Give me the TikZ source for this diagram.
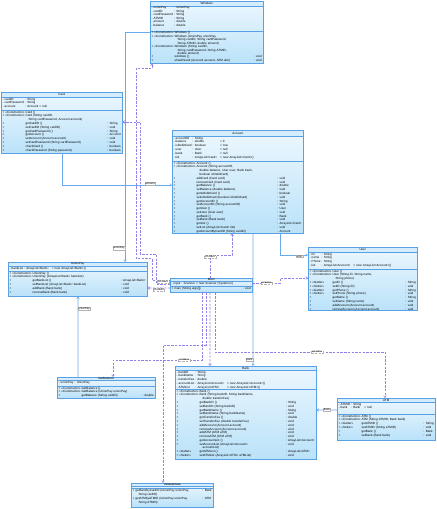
\documentclass[tikz,border=0pt]{standalone}
\usepackage{fontspec}
\setmainfont{Liberation Sans}
\usepackage{tikz}
\usetikzlibrary{positioning,arrows.meta,calc}

\definecolor{umlborder}{RGB}{90,160,228}
\definecolor{umlfill}{RGB}{186,226,249}
\definecolor{umltop}{RGB}{236,247,254}
\definecolor{umlhead}{RGB}{212,237,252}
\definecolor{assoc}{RGB}{105,170,238}
\definecolor{dep}{RGB}{145,130,235}

% class box: name, position, width, height, title sep, attribute sep, title, attributes, methods
\newcommand{\umlclass}[9]{%
  \node[umlbox, minimum width=#3bp, minimum height=#4bp, anchor=north west] (#1) at #2 {};
  \fill[umlhead] (#1.north west) rectangle ([yshift=-#5bp]#1.north east);
  \draw[umlborder, line width=.3bp] ([yshift=-#5bp]#1.north west) -- ([yshift=-#5bp]#1.north east);
  \draw[umlborder, line width=.3bp] ([yshift=-#6bp]#1.north west) -- ([yshift=-#6bp]#1.north east);
  \draw[umlborder, line width=.5bp] (#1.north west) rectangle (#1.south east);
  \node[umltitle] at ($(#1.north west)!.5!([yshift=-#5bp]#1.north east)$) {#7};
  \pgfmathsetmacro{\umltw}{#3-3}
  \node[umltext, anchor=north west, text width=\umltw bp] at ([xshift=1.5bp,yshift=-#5bp-.3bp]#1.north west) {#8};
  \node[umltext, anchor=north west, text width=\umltw bp] at ([xshift=1.5bp,yshift=-#6bp-.3bp]#1.north west) {#9};
}

\begin{document}
\begin{tikzpicture}[
  x=1bp, y=-1bp,
  umlbox/.style   = {draw=none, inner sep=0pt, top color=umltop, bottom color=umlfill},
  umltitle/.style = {font=\fontsize{3}{3.4}\selectfont, inner sep=0pt},
  umltext/.style  = {font=\fontsize{3.05}{3.8}\selectfont, inner sep=0pt, align=left},
  lbl/.style      = {font=\fontsize{2.7}{3}\selectfont, draw=black!30, line width=.2bp,
                     fill=white, inner sep=.5bp},
  assoc/.style    = {draw=assoc, line width=.6bp, -{Straight Barb[length=1.8bp,width=2.6bp]}},
  dep/.style      = {draw=dep, line width=.6bp, dash pattern=on 2.4bp off 1.3bp,
                     -{Straight Barb[length=1.8bp,width=2.6bp]}},
]
\fill[white] (0,0) rectangle (437,509);
\useasboundingbox (0,0) rectangle (437,509);

% ---------- windows ----------
\begin{scope}[umltext/.append style={font=\fontsize{3.05}{3.45}\selectfont}]
\umlclass{windows}{(150,1)}{113}{62}{5}{30}{Windows}
 {\begin{tabular}{@{}l@{\ }l@{\ }l@{}}
  - & unionPay & : UnionPay\\
  - & cardID & : String\\
  - & cardPassword & : String\\
  - & ATMID & : String\\
  - & amount & : double\\
  - & balance & : double
  \end{tabular}}
 {\begin{tabular*}{\hsize}{@{}l@{\ }l@{\ }l@{\extracolsep{\fill}}l@{}}
  + & «Constructor» & Windows () & \\
  + & «Constructor» & Windows (UnionPay unionPay, & \\
    & & \quad String cardID, String cardPassword, & \\
    & & \quad String ATMID, double amount) & \\
  + & «Constructor» & Windows (String cardID, & \\
    & & \quad String cardPassword, String ATMID, & \\
    & & \quad double amount) & \\
  + & & windows () & : void\\
  + & & showResult (Account account, ATM atm) & : void
  \end{tabular*}}
\end{scope}

% ---------- card ----------
\umlclass{card}{(1,92)}{121}{61}{5}{18}{Card}
 {\begin{tabular}{@{}l@{\ }l@{\ }l@{\ }l@{}}
  - & cardID & : String & \\
  - & cardPassword & : String & \\
  - & account & : Account & = null
  \end{tabular}}
 {\begin{tabular*}{\hsize}{@{}l@{\ }l@{\ }l@{\extracolsep{\fill}}l@{}}
  + & «Constructor» & Card () & \\
  + & «Constructor» & Card (String cardID, & \\
    & & \quad String cardPassword, Account account) & \\
  + & & getCardID () & : String\\
  + & & setCardID (String cardID) & : void\\
  + & & getCardPassword () & : String\\
  + & & getAccount () & : Account\\
  + & & setAccount (Account account) & : void\\
  + & & setCardPassword (String cardPassword) & : void\\
  + & & checkCard () & : boolean\\
  + & & checkPassword (String password) & : boolean
  \end{tabular*}}

% ---------- account ----------
\umlclass{account}{(172,130)}{131}{103}{6}{31}{Account}
 {\begin{tabular}{@{}l@{\ }l@{\ }l@{\quad}l@{}}
  - & accountID & : String & \\
  - & balance & : double & = 0\\
  - & isDebitCard & : boolean & = true\\
  - & user & : User & = null\\
  - & bank & : Bank & = null\\
  - & list & : ArrayList<Card> & = new ArrayList<Card>()
  \end{tabular}}
 {\begin{tabular*}{\hsize}{@{}l@{\ }l@{\ }l@{\extracolsep{\fill}}l@{}}
  + & «Constructor» & Account () & \\
  + & «Constructor» & Account (String accountID, & \\
    & & \quad double balance, User user, Bank bank, & \\
    & & \quad boolean isDebitCard) & \\
  + & & addCard (Card card) & : void\\
  + & & removeCard (Card card) & : void\\
  + & & getBalance () & : double\\
  + & & setBalance (double balance) & : void\\
  + & & getIsDebitCard () & : boolean\\
  + & & setIsDebitCard (boolean isDebitCard) & : void\\
  + & & getAccountID () & : String\\
  + & & setAccountID (String accountID) & : void\\
  + & & getUser () & : User\\
  + & & setUser (User user) & : void\\
  + & & getBank () & : Bank\\
  + & & setBank (Bank bank) & : void\\
  + & & getList () & : ArrayList<Card>\\
  + & & setList (ArrayList<Card> list) & : void\\
  + & & getAccountByCardID (String cardID) & : Account
  \end{tabular*}}

% ---------- user ----------
\umlclass{user}{(308,247)}{109}{63}{5}{22}{User}
 {\begin{tabular}{@{}l@{\ }l@{\ }l@{\quad}l@{}}
  - & ID & : String & \\
  - & name & : String & \\
  - & Phone & : String & \\
  - & list & : ArrayList<Account> & = new ArrayList<Account>()
  \end{tabular}}
 {\begin{tabular*}{\hsize}{@{}l@{\ }l@{\ }l@{\extracolsep{\fill}}l@{}}
  + & «Constructor» & User () & \\
  + & «Constructor» & User (String iD, String name, & \\
    & & \quad String phone) & \\
  + & «Getter» & getID () & : String\\
  + & «Setter» & setID (String iD) & : void\\
  + & «Getter» & getPhone () & : String\\
  + & «Setter» & setPhone (String phone) & : void\\
  + & & getName () & : String\\
  + & & setName (String name) & : void\\
  + & & addAccount (Account account) & : void\\
  + & & removeAccount (Account account) & : void
  \end{tabular*}}

% ---------- union pay ----------
\umlclass{unionpay}{(8,262)}{139}{34}{4}{9}{UnionPay}
 {\begin{tabular}{@{}l@{\ }l@{\ }l@{\quad}l@{}}
  - & bankList & : ArrayList<Bank> & = new ArrayList<Bank>()
  \end{tabular}}
 {\begin{tabular*}{\hsize}{@{}l@{\ }l@{\ }l@{\extracolsep{\fill}}l@{}}
  + & «Constructor» & UnionPay () & \\
  + & «Constructor» & UnionPay (ArrayList<Bank> bankList) & \\
  + & & getBankList () & : ArrayList<Bank>\\
  + & & setBankList (ArrayList<Bank> bankList) & : void\\
  + & & addBank (Bank bank) & : void\\
  + & & removeBank (Bank bank) & : void
  \end{tabular*}}

% ---------- main ----------
\umlclass{main}{(170,278)}{82}{14}{3}{8.5}{Main}
 {\begin{tabular}{@{}l@{\ }l@{\ }l@{\ }l@{}}
  - & input & : Scanner & = new Scanner (System.in)
  \end{tabular}}
 {\begin{tabular*}{\hsize}{@{}l@{\ }l@{\extracolsep{\fill}}l@{}}
  + & main (String args[]) & : void
  \end{tabular*}}

% ---------- bank ----------
\umlclass{bank}{(175,366)}{141}{93}{4}{23}{Bank}
 {\begin{tabular}{@{}l@{\ }l@{\ }l@{\quad}l@{}}
  - & bankID & : String & \\
  - & bankName & : String & \\
  - & transferFee & : double & \\
  - & accountList & : ArrayList<Account> & = new ArrayList<Account>()\\
  - & ATMList & : ArrayList<ATM> & = new ArrayList<ATM>()
  \end{tabular}}
 {\begin{tabular*}{\hsize}{@{}l@{\ }l@{\ }l@{\extracolsep{\fill}}l@{}}
  + & «Constructor» & Bank () & \\
  + & «Constructor» & Bank (String bankID, String bankName, & \\
    & & \quad double transferFee) & \\
  + & & getBankID () & : String\\
  + & & setBankID (String bankID) & : void\\
  + & & getBankName () & : String\\
  + & & setBankName (String bankName) & : void\\
  + & & getTransferFee () & : double\\
  + & & setTransferFee (double transferFee) & : void\\
  + & & addAccount (Account account) & : void\\
  + & & removeAccount (Account account) & : void\\
  + & & addATM (ATM aTM) & : void\\
  + & & removeATM (ATM aTM) & : void\\
  + & & getAccountList () & : ArrayList<Account>\\
  + & & setAccountList (ArrayList<Account> & : void\\
    & & \quad accountList) & \\
  + & «Getter» & getATMList () & : ArrayList<ATM>\\
  + & «Setter» & setATMList (ArrayList<ATM> aTMList) & : void
  \end{tabular*}}

% ---------- atm ----------
\umlclass{atm}{(337,398)}{98}{42}{4}{16}{ATM}
 {\begin{tabular}{@{}l@{\ }l@{\ }l@{\quad}l@{}}
  - & ATMID & : String & \\
  - & bank & : Bank & = null
  \end{tabular}}
 {\begin{tabular*}{\hsize}{@{}l@{\ }l@{\ }l@{\extracolsep{\fill}}l@{}}
  + & «Constructor» & ATM () & \\
  + & «Constructor» & ATM (String ATMID, Bank bank) & \\
  + & «Getter» & getATMID () & : String\\
  + & «Setter» & setATMID (String aTMID) & : void\\
  + & & getBank () & : Bank\\
  + & & setBank (Bank bank) & : void
  \end{tabular*}}

% ---------- get balance ----------
\umlclass{getbalance}{(57,377)}{98}{21}{3.5}{9}{GetBalance}
 {\begin{tabular}{@{}l@{\ }l@{\ }l@{}}
  - & unionPay & : UnionPay
  \end{tabular}}
 {\begin{tabular*}{\hsize}{@{}l@{\ }l@{\ }l@{\extracolsep{\fill}}l@{}}
  + & «Constructor» & GetBalance () & \\
  + & «Constructor» & GetBalance (UnionPay unionPay) & \\
  + & & getBalance (String cardID) & : double
  \end{tabular*}}

% ---------- validate data ----------
\umlclass{validate}{(131,483)}{82}{24}{3.5}{5.5}{ValidateData}
 {}
 {\begin{tabular*}{\hsize}{@{}l@{\ }l@{\extracolsep{\fill}}l@{}}
  + & getBankbyCardID (UnionPay unionPay, & : Bank\\
    & \quad String cardID) & \\
  + & getATMbyATMID (UnionPay unionPay, & : ATM\\
    & \quad String ATMID) &
  \end{tabular*}}

% ---------- associations ----------
\draw[assoc] ([yshift=-31bp]windows.north west) -| ([xshift=117bp]unionpay.north west)
      node[lbl, pos=.97, left] {unionPay};
\draw[assoc] ([xshift=21bp]getbalance.north west) -- ([xshift=70bp]unionpay.south west)
      node[lbl, pos=.85, right] {unionPay};
\draw[assoc] ([xshift=61bp]card.south west) |- ([yshift=-55bp]account.north west)
      node[lbl, pos=.9, above] {account};
\draw[assoc] ([xshift=108bp]account.south west) |- ([yshift=-8bp]user.north west)
      node[lbl, pos=.85, below] {user};
\draw[assoc] ([xshift=81bp]account.south west) -- ([xshift=78bp]bank.north west)
      node[lbl, pos=.95, left] {bank};
\draw[assoc] ([yshift=-12bp]atm.north west) -- ([yshift=-44bp]bank.north east)
      node[lbl, midway] {bank};

% ---------- create ----------
\draw[dep] ([yshift=-2.5bp]main.north west) -- ++(-18,0) |- ++(-16,-22)
      |- ([xshift=2bp,yshift=-5bp]windows.south west) -- ([xshift=2bp]windows.south west);
\draw[dep] ([yshift=-6bp]main.north west) -- ++(-14,0) node[lbl, pos=.5, above=1bp] {«create»}
      |- ++(-16,-30) |- ([yshift=-30bp]card.north east);
\draw[dep] ([yshift=-10bp]main.north west) -- ([yshift=-26bp]unionpay.north east)
      node[lbl, midway, below] {«create»};
\draw[dep] ([xshift=40bp]main.north west) |- ([xshift=60bp,yshift=-22bp]account.south west)
      node[lbl, pos=.5, below] {«create»} -- ([xshift=60bp]account.south west);
\draw[dep] ([yshift=-5bp]main.north east) -- ++(28,0) node[lbl, midway] {«create»}
      |- ([yshift=-31bp]user.north west);
\draw[dep] ([xshift=32bp]main.south west) |- ([xshift=56bp,yshift=17bp]getbalance.north west)
      node[lbl, pos=.6] {«create»} -- ([xshift=56bp]getbalance.north west);
\draw[dep] ([xshift=36bp]main.south west) |- ([xshift=32bp,yshift=138bp]validate.north west)
      -- ([xshift=32bp]validate.north west);
\draw[dep] ([xshift=40bp]main.south west) -- ([xshift=35bp]bank.north west);
\draw[dep] ([xshift=45bp]main.south west) |- ([xshift=48bp,yshift=46bp]atm.north west)
      node[lbl, pos=.8] {«create»} -- ([xshift=48bp]atm.north west);

\end{tikzpicture}
\end{document}
